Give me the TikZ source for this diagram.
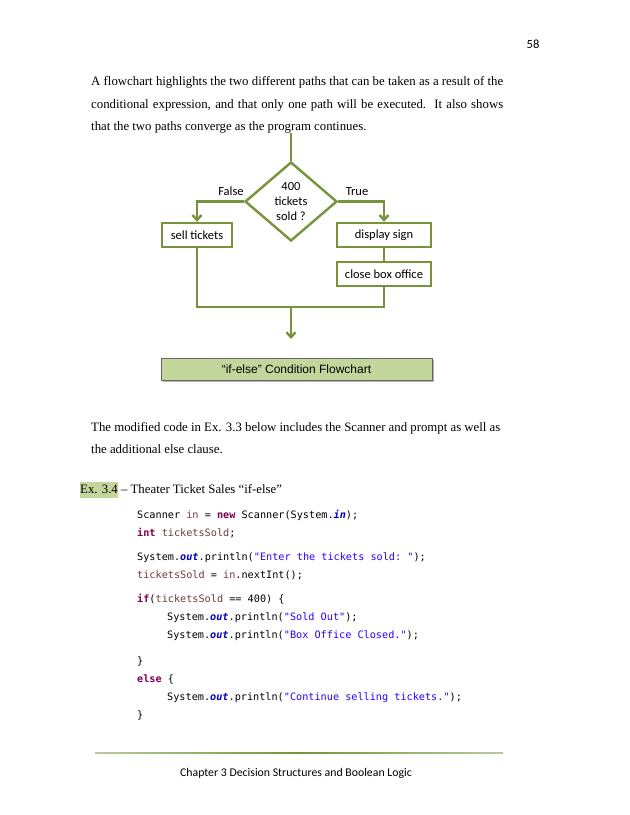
\documentclass[tikz,border=0pt]{standalone}
\usepackage{fontspec}
\setmainfont{Liberation Serif}
\newfontfamily\calfont{Carlito}
\newfontfamily\arifont{Liberation Sans}
\setmonofont{DejaVu Sans Mono}
\usetikzlibrary{shapes.geometric,arrows.meta,shadows}
\definecolor{fg}{HTML}{77933C}
\definecolor{capfill}{HTML}{C3D69B}
\definecolor{kwc}{HTML}{7F0055}
\definecolor{stc}{HTML}{2A00FF}
\definecolor{flc}{HTML}{0000C0}
\definecolor{vrc}{HTML}{6A3E3E}
\newcommand\kw[1]{\textcolor{kwc}{\bfseries #1}}
\newcommand\stx[1]{\textcolor{stc}{#1}}
\newcommand\fl[1]{\textcolor{flc}{\bfseries\itshape #1}}
\newcommand\vr[1]{\textcolor{vrc}{#1}}
\begin{document}
\begin{tikzpicture}[x=1pt,y=-1pt,
  box/.style={draw=fg,line width=2.4pt,minimum height=24pt,font=\calfont\fontsize{12.5}{14}\selectfont,inner sep=0pt},
  conn/.style={draw=fg,line width=2.4pt},
  arr/.style={conn,-{Straight Barb[length=5pt,width=9pt]}},
  body/.style={anchor=base west,inner sep=0pt,font=\fontsize{12.8}{15}\selectfont},
  lab/.style={anchor=base,inner sep=0pt,font=\calfont\fontsize{12.5}{14}\selectfont},
  code/.style={anchor=base west,inner sep=0pt,font=\ttfamily\fontsize{10.2}{12}\selectfont}]
\useasboundingbox (0,0) rectangle (630,815);
\fill[white] (0,0) rectangle (630,815);
\node[lab] (pg) at (533,48) {58};
\node[body] (p1) at (91,85.5) {\makebox[412pt][s]{A flowchart highlights the two different paths that can be taken as a result of the}};
\node[body] (p2) at (91,108) {\makebox[412pt][s]{conditional expression, and that only one path will be executed.\ \ It also shows}};
\node[body] (p3) at (91,130) {that the two paths converge as the program continues.};
% flowchart
\coordinate (top) at (291,133);
\node[draw=fg,line width=2.4pt,diamond,minimum width=92pt,minimum height=79pt,inner sep=0pt,aspect=1.16,align=center,font=\calfont\fontsize{12.5}{15}\selectfont] (dec) at (291,201.5) {400\\tickets\\sold ?};
\node[box,minimum width=70pt] (sell) at (197,235) {sell tickets};
\node[box,minimum width=94pt] (disp) at (384,235) {display sign};
\node[box,minimum width=94pt] (close) at (384,274) {close box office};
\coordinate (join) at (291,307);
\coordinate (end) at (291,339);
\draw[conn] (top) -- (dec.north);
\draw[arr] (dec.west) -| (sell.north);
\draw[arr] (dec.east) -| (disp.north);
\draw[conn] (disp) -- (close);
\draw[conn] (sell.south) |- (join) -| (close.south);
\draw[arr] (join) -- (end);
\node[lab] (fl) at (231,195) {False};
\node[lab] (tr) at (357,195) {True};
\node[draw=black!60,fill=capfill,minimum width=271pt,minimum height=22pt,inner sep=0pt,font=\arifont\fontsize{12}{14}\selectfont,drop shadow={shadow xshift=1.5pt,shadow yshift=-1.5pt,opacity=0.6}] (cap) at (296.5,369) {“if-else” Condition Flowchart};
\node[body] (p4) at (91,431) {The modified code in Ex. 3.3 below includes the Scanner and prompt as well as};
\node[body] (p5) at (91,453) {the additional else clause.};
\node[body] (ex) at (80,493) {\colorbox{capfill}{\rule[-2pt]{0pt}{10pt}\hspace{-3pt}Ex. 3.4\hspace{-3pt}} – Theater Ticket Sales “if-else”};
% code
\node[code] (c1) at (137,518) {Scanner \vr{in} = \kw{new} Scanner(System.\fl{in});};
\node[code] (c2) at (137,536) {\kw{int} \vr{ticketsSold};};
\node[code] (c3) at (137,560) {System.\fl{out}.println(\stx{"Enter the tickets sold: "});};
\node[code] (c4) at (137,578) {\vr{ticketsSold} = \vr{in}.nextInt();};
\node[code] (c5) at (137,602) {\kw{if}(\vr{ticketsSold} == 400) \{};
\node[code] (c6) at (167,620) {System.\fl{out}.println(\stx{"Sold Out"});};
\node[code] (c7) at (167,638) {System.\fl{out}.println(\stx{"Box Office Closed."});};
\node[code] (c8) at (137,664) {\}};
\node[code] (c9) at (137,682) {\kw{else} \{};
\node[code] (c10) at (167,700) {System.\fl{out}.println(\stx{"Continue selling tickets."});};
\node[code] (c11) at (137,718) {\}};
% footer
\shade[left color=fg!50,right color=fg!50,middle color=fg] (95,752.7) rectangle (503,753.9);
\node[lab,font=\calfont\fontsize{11.8}{14}\selectfont] (ft) at (296,776) {Chapter 3 Decision Structures and Boolean Logic};
\end{tikzpicture}
\end{document}
